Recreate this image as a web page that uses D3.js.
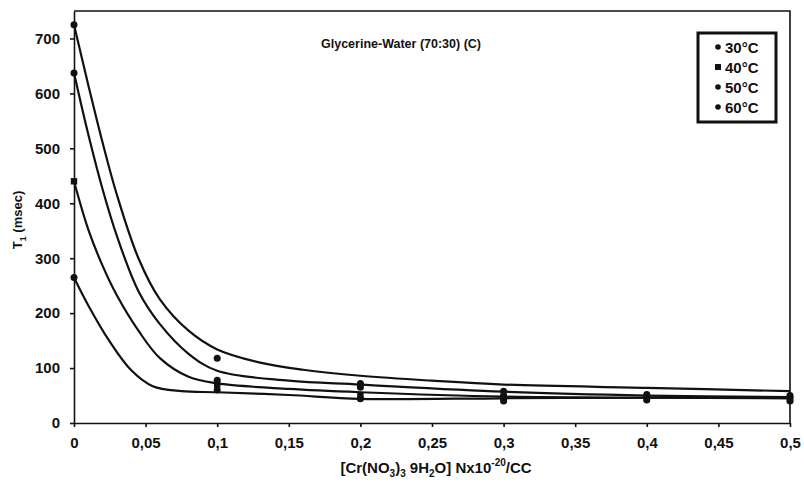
<!DOCTYPE html>
<html>
<head>
<meta charset="utf-8">
<script src="https://cdn.jsdelivr.net/npm/d3@7"></script>
<style>
  body { margin: 0; background: #fff; }
  text { font-family: "Liberation Sans", Arial, sans-serif; font-weight: bold; fill: #111; }
  .axis path, .axis line { stroke: #111; stroke-width: 1.6; }
  .axis text { font-size: 15px; }
  .curve { fill: none; stroke: #111; stroke-width: 2.2; }
</style>
</head>
<body>
<script>
var w = 804, h = 487;
var margin = {top: 11, right: 14, bottom: 64, left: 74};
var innerW = w - margin.left - margin.right,
    innerH = h - margin.top - margin.bottom;

// legend labels
var series = ['30°C', '40°C', '50°C', '60°C'];
var symbols = ['circle', 'square', 'circle', 'circle'];

// measured points
var conc = [0, 0.1, 0.2, 0.3, 0.4, 0.5];
var t30 = [265, 60, 44, 40, 42, 40];
var t40 = [440, 70, 50, 45, 45, 43];
var t50 = [637, 78, 65, 50, 48, 46];
var t60 = [725, 118, 72, 58, 52, 50];

// smoothed curves
var curve30 = [[0,265],[0.01,214],[0.025,148],[0.04,96],[0.055,67],[0.075,58],[0.1,56],[0.15,51],[0.2,44],[0.3,45],[0.4,46],[0.5,46]];
var curve40 = [[0,440],[0.01,352],[0.02,286],[0.03,232],[0.045,168],[0.06,118],[0.08,84],[0.1,72],[0.15,62],[0.2,56],[0.3,48],[0.4,46],[0.5,45]];
var curve50 = [[0,637],[0.01,525],[0.02,425],[0.03,340],[0.045,240],[0.06,180],[0.08,126],[0.1,95],[0.15,77],[0.2,70],[0.3,57],[0.4,50],[0.5,47]];
var curve60 = [[0,725],[0.01,615],[0.02,510],[0.03,415],[0.045,300],[0.06,225],[0.08,168],[0.1,134],[0.13,110],[0.16,97],[0.2,86],[0.25,77],[0.3,70],[0.4,64],[0.5,58]];

var xTicks = [0, 0.05, 0.1, 0.15, 0.2, 0.25, 0.3, 0.35, 0.4, 0.45, 0.5];
var yTicks = [0, 100, 200, 300, 400, 500, 600, 700];

var x = d3.scaleLinear().domain([0, 0.5]).range([0, innerW]);
var y = d3.scaleLinear().domain([0, 750]).range([innerH, 0]);

var svg = d3.select('body').append('svg')
    .attr('width', w)
    .attr('height', h);
var g = svg.append('g')
    .attr('transform', 'translate(' + [margin.left, margin.top] + ')');

// frame (top and right)
g.append('path')
  .attr('d', 'M0,0H' + innerW + 'V' + innerH)
  .attr('fill', 'none').attr('stroke', '#111').attr('stroke-width', 1.6);

var fmt = function(d) { return String(d).replace('.', ','); };

g.append('g').attr('class', 'x axis')
  .attr('transform', 'translate(0,' + innerH + ')')
  .call(d3.axisBottom(x).tickValues(xTicks).tickFormat(fmt).tickSize(4).tickPadding(10).tickSizeOuter(0));

g.append('g').attr('class', 'y axis')
  .call(d3.axisLeft(y).tickValues(yTicks).tickSize(4).tickPadding(10).tickSizeOuter(0));

var line = d3.line()
  .x(function(d) { return x(d[0]); })
  .y(function(d) { return y(d[1]); })
  .curve(d3.curveCatmullRom.alpha(0.5));

[curve30, curve40, curve50, curve60].forEach(function(c) {
  g.append('path').attr('class', 'curve').attr('d', line(c));
});

var sets = [t30, t40, t50, t60];
sets.forEach(function(vals, i) {
  var pts = g.append('g');
  conc.forEach(function(cx, j) {
    if (symbols[i] === 'square') {
      pts.append('rect')
        .attr('x', x(cx) - 3.2).attr('y', y(vals[j]) - 3.2)
        .attr('width', 6.4).attr('height', 6.4).attr('fill', '#111');
    } else {
      pts.append('circle')
        .attr('cx', x(cx)).attr('cy', y(vals[j])).attr('r', 3.5).attr('fill', '#111');
    }
  });
});

// title
g.append('text')
  .attr('x', 327).attr('y', 37)
  .attr('text-anchor', 'middle')
  .style('font-size', '12.5px')
  .text('Glycerine-Water (70:30) (C)');

// legend
var lg = svg.append('g').attr('transform', 'translate(698,33)');
lg.append('rect').attr('x', 0).attr('y', 0).attr('width', 78).attr('height', 89)
  .attr('fill', '#fff').attr('stroke', '#111').attr('stroke-width', 3);
series.forEach(function(s, i) {
  var yy = 14 + i * 20;
  if (symbols[i] === 'square') {
    lg.append('rect').attr('x', 17).attr('y', yy - 3).attr('width', 6).attr('height', 6).attr('fill', '#111');
  } else {
    lg.append('circle').attr('cx', 20).attr('cy', yy).attr('r', 2.8).attr('fill', '#111');
  }
  lg.append('text').attr('x', 27).attr('y', yy + 5.5)
    .style('font-size', '15px').text(s);
});

// axis titles
var xt = svg.append('text')
  .attr('x', 436).attr('y', 473)
  .attr('text-anchor', 'middle')
  .style('font-size', '15px');
xt.append('tspan').text('[Cr(NO');
xt.append('tspan').attr('dy', 4).style('font-size', '10px').text('3');
xt.append('tspan').attr('dy', -4).text(')');
xt.append('tspan').attr('dy', 4).style('font-size', '10px').text('3');
xt.append('tspan').attr('dy', -4).text(' 9H');
xt.append('tspan').attr('dy', 4).style('font-size', '10px').text('2');
xt.append('tspan').attr('dy', -4).text('O] Nx10');
xt.append('tspan').attr('dy', -7).style('font-size', '10px').text('-20');
xt.append('tspan').attr('dy', 7).text('/CC');

var yt = svg.append('text')
  .attr('transform', 'translate(22,220) rotate(-90)')
  .attr('text-anchor', 'middle')
  .style('font-size', '13px');
yt.append('tspan').text('T');
yt.append('tspan').attr('dy', 4).style('font-size', '9px').text('1');
yt.append('tspan').attr('dy', -4).text(' (msec)');
</script>
</body>
</html>
